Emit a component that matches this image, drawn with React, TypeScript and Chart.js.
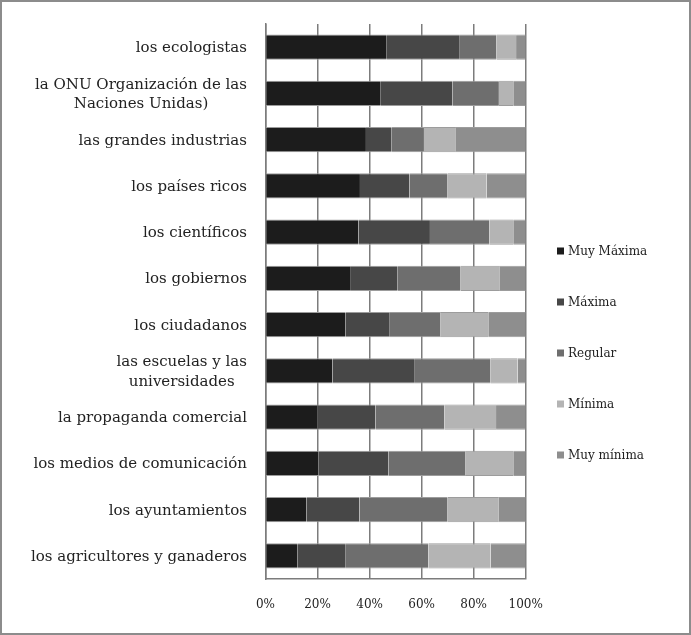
import { useEffect, useRef } from "react";
import { Chart, registerables } from "chart.js";

Chart.register(...registerables);

const categories: (string | string[])[] = [
  "los ecologistas",
  ["la ONU Organización de las", "Naciones Unidas)"],
  "las grandes industrias",
  "los países ricos",
  "los científicos",
  "los gobiernos",
  "los ciudadanos",
  ["las escuelas y las", "universidades"],
  "la propaganda comercial",
  "los medios de comunicación",
  "los ayuntamientos",
  "los agricultores y ganaderos",
];

const seriesNames = ["Muy Máxima", "Máxima", "Regular", "Mínima", "Muy mínima"];

const muyMaxima = [46.6, 44.3, 38.6, 36.3, 35.7, 32.5, 30.8, 25.7, 20.0, 20.3, 15.8, 12.2];
const maxima = [27.8, 27.6, 9.9, 19.0, 27.5, 18.3, 16.7, 31.4, 22.3, 26.9, 20.3, 18.4];
const regular = [14.4, 17.8, 12.4, 14.7, 22.8, 24.2, 19.6, 29.4, 26.4, 29.5, 33.9, 32.0];
const minima = [7.5, 5.5, 12.3, 15.0, 9.2, 15.1, 18.5, 10.4, 19.9, 18.5, 19.7, 23.9];
const muyMinima = [3.7, 4.8, 26.8, 15.0, 4.8, 9.9, 14.4, 3.1, 11.4, 4.8, 10.3, 13.5];

const xTickValues = [0, 20, 40, 60, 80, 100];

const seriesColors = ["#1c1c1c", "#474747", "#6e6e6e", "#b4b4b4", "#8e8e8e"];

const FONT = '"DejaVu Serif", "Liberation Serif", serif';
const TEXT = "#222222";
const GRID = "#7c7c7c";

const yLabelPlugin = {
  id: "yLabelsCentered",
  afterDraw(chart: any) {
    const { ctx } = chart;
    const y = chart.scales.y;
    ctx.save();
    ctx.font = `15px ${FONT}`;
    ctx.fillStyle = TEXT;
    ctx.textAlign = "center";
    ctx.textBaseline = "middle";
    const right = y.right - 18.5;
    const lh = 19.5;
    categories.forEach((c, i) => {
      const lines = Array.isArray(c) ? c : [c];
      const w = Math.max(...lines.map((l) => ctx.measureText(l).width));
      const cx = right - w / 2;
      const py = y.getPixelForValue(i);
      lines.forEach((l, j) => {
        ctx.fillText(l, cx, py + (j - (lines.length - 1) / 2) * lh + 1);
      });
    });
    ctx.restore();
  },
};

const LEGEND_X = 555;
const LEGEND_Y0 = 249;
const LEGEND_STEP = 51;

const legendPlugin = {
  id: "sideLegend",
  afterDraw(chart: any) {
    const { ctx } = chart;
    ctx.save();
    ctx.font = `12px ${FONT}`;
    ctx.textAlign = "left";
    ctx.textBaseline = "middle";
    chart.data.datasets.forEach((ds: any, i: number) => {
      const cy = LEGEND_Y0 + i * LEGEND_STEP;
      ctx.fillStyle = ds.backgroundColor;
      ctx.fillRect(LEGEND_X, cy - 3.5, 7, 7);
      ctx.fillStyle = TEXT;
      ctx.fillText(ds.label, LEGEND_X + 11, cy + 0.5);
    });
    ctx.restore();
  },
};

export default function App() {
  const ref = useRef<HTMLCanvasElement | null>(null);

  useEffect(() => {
    document.body.style.margin = "0";
    const canvas = ref.current;
    if (!canvas) return;
    const seriesData = [muyMaxima, maxima, regular, minima, muyMinima];
    const chart = new Chart(canvas, {
      type: "bar",
      data: {
        labels: categories.map((c) => (Array.isArray(c) ? c.join(" ") : c)),
        datasets: seriesNames.map((name, i) => ({
          label: name,
          data: seriesData[i],
          backgroundColor: seriesColors[i],
          borderColor: "#9c9c9c",
          borderWidth: { top: 1, bottom: 1, left: 0, right: 0 },
          borderSkipped: false,
          barPercentage: 0.55,
          categoryPercentage: 1,
        })),
      },
      options: {
        indexAxis: "y",
        responsive: false,
        animation: false,
        layout: { padding: { top: 22, right: 163.3, left: 0, bottom: 0 } },
        plugins: {
          legend: { display: false },
          tooltip: { enabled: false },
        },
        scales: {
          x: {
            stacked: true,
            min: 0,
            max: 100,
            afterBuildTicks: (s: any) => {
              s.ticks = xTickValues.map((v) => ({ value: v }));
            },
            ticks: {
              callback: (v: any) => `${v}%`,
              font: { family: FONT, size: 12 },
              color: TEXT,
              padding: 19,
              maxRotation: 0,
            },
            grid: { color: GRID, lineWidth: 1.5, drawTicks: false },
            border: { display: true, color: GRID, width: 1.5 },
            afterFit: (s: any) => {
              s.height = 54;
            },
          },
          y: {
            stacked: true,
            ticks: { display: false },
            grid: { display: false, drawTicks: false },
            border: { display: true, color: GRID, width: 1.5 },
            afterFit: (s: any) => {
              s.width = 263.5;
            },
          },
        },
      },
      plugins: [yLabelPlugin, legendPlugin],
    } as any);
    return () => chart.destroy();
  }, []);

  return (
    <div
      style={{
        width: 691,
        height: 635,
        boxSizing: "border-box",
        border: "2px solid #8c8c8c",
        background: "#fff",
      }}
    >
      <canvas ref={ref} width={687} height={631} style={{ display: "block" }} />
    </div>
  );
}
